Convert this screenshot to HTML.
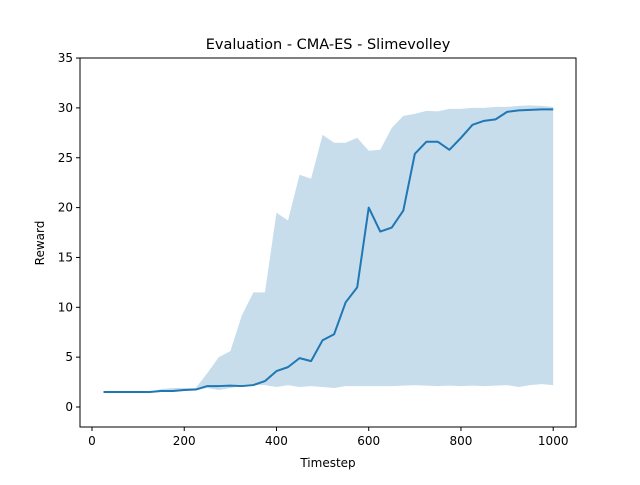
<!DOCTYPE html>
<html><head><meta charset="utf-8"><style>
body{margin:0;background:#fff;font-family:"Liberation Sans","DejaVu Sans",sans-serif;}
svg text{font-family:"DejaVu Sans","Liberation Sans",sans-serif;}
</style></head><body>
<svg id="chart" width="640" height="480" xmlns="http://www.w3.org/2000/svg"></svg>
<script>
const timesteps=[25,50,75,100,125,150,175,200,225,250,275,300,325,350,375,400,425,450,475,500,525,550,575,600,625,650,675,700,725,750,775,800,825,850,875,900,925,950,975,1000];
const meanReward=[1.5,1.5,1.5,1.5,1.5,1.6,1.6,1.7,1.75,2.1,2.1,2.15,2.1,2.2,2.6,3.6,4.0,4.9,4.6,6.7,7.3,10.5,12.0,20.0,17.6,18.0,19.7,25.4,26.6,26.6,25.8,27.0,28.3,28.7,28.85,29.6,29.75,29.8,29.85,29.85];
const upperReward=[1.5,1.5,1.5,1.5,1.5,1.8,1.9,1.9,1.9,3.4,5.0,5.6,9.2,11.5,11.5,19.5,18.7,23.3,22.9,27.3,26.5,26.5,27.0,25.7,25.8,28.0,29.2,29.4,29.7,29.65,29.9,29.9,30.0,30.0,30.1,30.1,30.2,30.25,30.2,30.1];
const lowerReward=[1.5,1.5,1.5,1.5,1.5,1.5,1.5,1.6,1.7,1.9,1.7,1.9,2.1,2.2,2.2,2.0,2.2,2.0,2.1,2.0,1.9,2.1,2.1,2.1,2.1,2.1,2.15,2.2,2.15,2.1,2.15,2.1,2.15,2.1,2.15,2.2,2.0,2.2,2.3,2.2];
const xTicks=[0,200,400,600,800,1000];
const yTicks=[0,5,10,15,20,25,30,35];

const svg=document.getElementById('chart');
const NS='http://www.w3.org/2000/svg';
const L=80,R=576,T=58,B=427;
const X=v=>92+v*0.4612;
const Y=v=>407-v*9.97;
function mk(tag,attrs,parent){const e=document.createElementNS(NS,tag);for(const k in attrs)e.setAttribute(k,attrs[k]);(parent||svg).appendChild(e);return e;}

let pts=timesteps.map((t,i)=>X(t)+','+Y(upperReward[i]));
for(let i=timesteps.length-1;i>=0;i--)pts.push(X(timesteps[i])+','+Y(lowerReward[i]));
const band=mk('polygon',{points:pts.join(' '),fill:'#1f77b4','fill-opacity':'0.25',stroke:'none'});



const line=mk('polyline',{points:timesteps.map((t,i)=>X(t)+','+Y(meanReward[i])).join(' '),fill:'none',stroke:'#1f77b4','stroke-width':'2','stroke-linejoin':'round'});



const frame=mk('rect',{x:L,y:T,width:R-L,height:B-T,fill:'none',stroke:'#000','stroke-width':'1'});



xTicks.forEach(v=>{
  const x=X(v);
  const tk=mk('line',{x1:x,x2:x,y1:B,y2:B+4,stroke:'#000'});
  
  
  const t=mk('text',{x:x,y:B+18,'text-anchor':'middle','font-size':'12'});
  t.textContent=v;
  
  
});
yTicks.forEach(v=>{
  const y=Y(v);
  const tk=mk('line',{x1:L-4,x2:L,y1:y,y2:y,stroke:'#000'});
  
  
  const t=mk('text',{x:L-7,y:y+4,'text-anchor':'end','font-size':'12'});
  t.textContent=v;
  
  
});
const title=mk('text',{x:328,y:49,'text-anchor':'middle','font-size':'14.5'});
title.textContent='Evaluation - CMA-ES - Slimevolley';


const xl=mk('text',{x:328,y:467,'text-anchor':'middle','font-size':'12'});
xl.textContent='Timestep';


const yl=mk('text',{x:44,y:243,'text-anchor':'middle','font-size':'12',transform:'rotate(-90 44 243)'});
yl.textContent='Reward';


</script>
</body></html>
